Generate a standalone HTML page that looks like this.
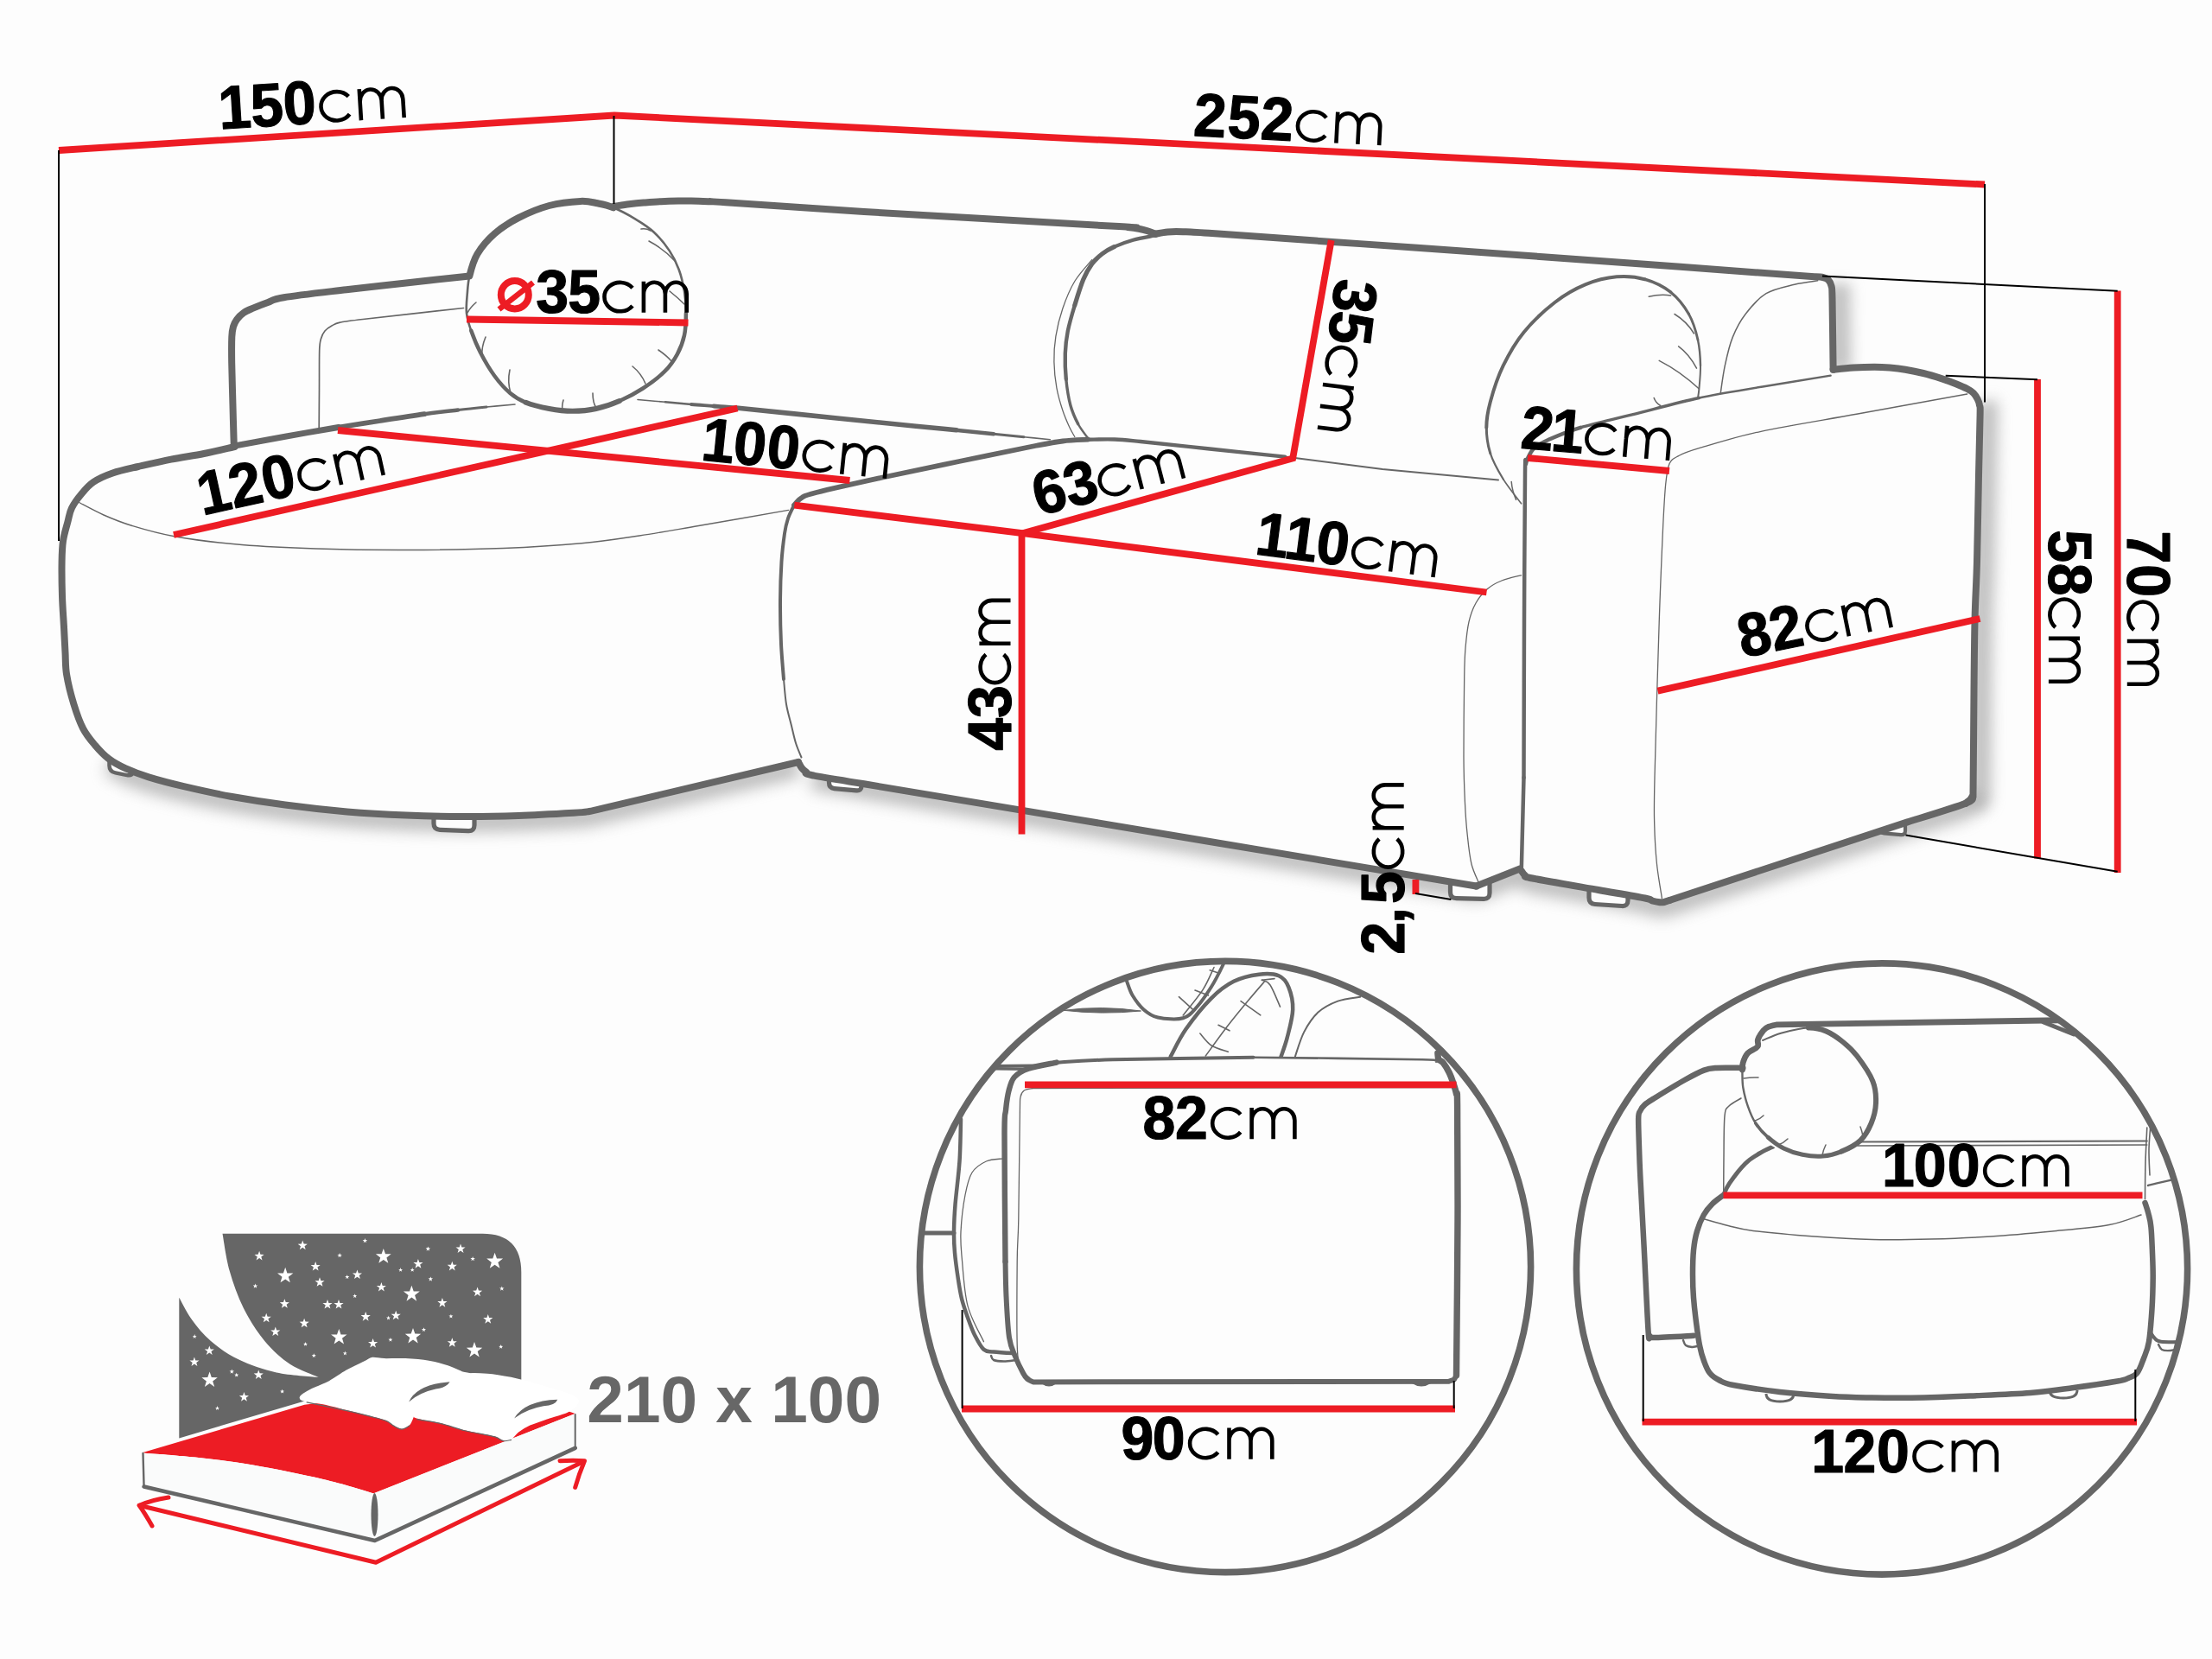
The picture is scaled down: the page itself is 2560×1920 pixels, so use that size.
<!DOCTYPE html>
<html>
<head>
<meta charset="utf-8">
<title>Sofa dimensions</title>
<style>
html,body{margin:0;padding:0;background:#fdfdfd;}
body{width:2560px;height:1920px;overflow:hidden;font-family:"Liberation Sans",sans-serif;}
svg{display:block;position:absolute;left:0;top:0;}
text{font-family:"Liberation Sans",sans-serif;}
.b{font-weight:bold;}
.g{stroke:#666;fill:none;stroke-linecap:round;stroke-linejoin:round;}
.r{stroke:#ed1c24;fill:none;stroke-width:7.8;stroke-linecap:butt;}
.k{stroke:#000;fill:none;stroke-width:2;}
</style>
</head>
<body>
<svg width="2560" height="1920" viewBox="0 0 2560 1920">
<defs>
<filter id="blur" x="-20%" y="-20%" width="140%" height="140%"><feGaussianBlur stdDeviation="9"/></filter>
<filter id="blur2" x="-50%" y="-20%" width="200%" height="140%"><feGaussianBlur stdDeviation="8"/></filter>
<clipPath id="c1"><circle cx="1418" cy="1466" r="354"/></clipPath>
<clipPath id="c2"><circle cx="2178" cy="1468.5" r="354"/></clipPath>
</defs>
<rect width="2560" height="1920" fill="#fdfdfd"/>
<g filter="url(#blur2)" fill="none" stroke="#888" stroke-width="26" opacity="0.5" stroke-linejoin="round" stroke-linecap="butt">
<path d="M2128.5,328.0 L2129.5,430.0"/>
<path d="M2296.7,465.0 C2297.1,466.2 2298.5,469.0 2299.0,472.0 C2299.5,475.0 2299.8,469.5 2299.6,483.0 C2299.4,496.5 2298.6,524.7 2298.0,553.0 C2297.4,581.3 2296.7,625.5 2296.0,653.0 C2295.3,680.5 2294.2,693.0 2293.6,718.0 C2293.0,743.0 2292.8,770.5 2292.5,803.0 C2292.2,835.5 2291.9,892.7 2291.6,913.0 C2291.3,933.3 2291.9,921.7 2290.5,925.0 C2289.1,928.3 2284.2,931.4 2283.0,932.7"/>
</g>
<g filter="url(#blur)" fill="none" stroke="#888" stroke-width="22" opacity="0.58" stroke-linejoin="round">
<path d="M2284.0,921.0 L2276.0,935.7 L2208.6,957.4 L1933.0,1048.0 L1927.0,1050.0 L1922.0,1050.3 L1913.0,1048.5 L1904.8,1045.5 L1851.0,1036.0 L1774.6,1022.5 L1766.0,1019.0 L1761.8,1013.9 L1760.0,1011.5 L1709.5,1031.5 L1401.0,980.0 L940.0,903.0"/>
<path d="M126.0,884.3 C129.2,886.1 137.3,891.7 145.0,895.2 C152.7,898.7 160.7,901.9 172.0,905.4 C183.3,908.9 197.0,912.5 212.8,916.2 C228.6,919.9 247.5,924.2 267.0,927.7 C286.5,931.2 307.6,934.5 330.0,937.5 C352.4,940.5 378.4,943.4 401.7,945.4 C425.0,947.4 447.4,948.6 470.0,949.5 C492.6,950.4 515.3,950.9 537.0,951.0 C558.7,951.1 578.8,950.7 600.0,950.0 C621.2,949.3 650.3,947.6 664.0,946.8 C677.7,946.0 676.5,945.9 682.0,945.0 C687.5,944.1 694.5,942.2 697.0,941.6 L924,888"/>
</g>
<path d="M126.5,878.0 L126.5,886.0 Q126.5,893.0 133.5,894.4 L147.0,897.1 Q154.0,898.5 154.0,891.5 L154.0,893.0" fill="#fdfdfd" stroke="#666" stroke-width="4.5" stroke-linecap="round" stroke-linejoin="round"/>
<path d="M502.0,940.0 L502.0,953.0 Q502.0,960.0 509.0,960.3 L542.0,961.7 Q549.0,962.0 549.0,955.0 L549.0,940.0" fill="#fdfdfd" stroke="#666" stroke-width="5.2" stroke-linecap="round" stroke-linejoin="round"/>
<path d="M959.5,896.0 L959.5,906.0 Q959.5,912.0 965.5,912.6 L991.0,914.9 Q997.0,915.5 997.0,909.5 L997.0,904.0" fill="#fdfdfd" stroke="#666" stroke-width="5.2" stroke-linecap="round" stroke-linejoin="round"/>
<path d="M1678.5,1018.0 L1678.5,1032.5 Q1678.5,1039.5 1685.5,1039.7 L1717.0,1040.3 Q1724.0,1040.5 1724.0,1033.5 L1724.0,1016.0" fill="#fdfdfd" stroke="#666" stroke-width="5.2" stroke-linecap="round" stroke-linejoin="round"/>
<path d="M1839.0,1026.0 L1839.0,1039.0 Q1839.0,1046.0 1846.0,1046.5 L1877.0,1048.5 Q1884.0,1049.0 1884.0,1042.0 L1884.0,1034.0" fill="#fdfdfd" stroke="#666" stroke-width="5.2" stroke-linecap="round" stroke-linejoin="round"/>
<path d="M2175.5,957.0 L2175.5,959.0 Q2175.5,964.0 2180.5,964.4 L2200.0,966.1 Q2205.0,966.5 2205.0,961.5 L2205.0,948.0" fill="#fdfdfd" stroke="#666" stroke-width="4.2" stroke-linecap="round" stroke-linejoin="round"/>
<path fill="#fdfdfd" d="M270.8,517.0 L269.5,470.0 L268.2,420.0 L268.3,390.0 L270.0,378.0 L274.2,369.6 L282.0,362.0 L292.3,356.9 L310.0,350.0 L328.5,344.2 L400.8,335.2 L470.0,327.5 L541.0,319.7 L543.4,319.3 L552.4,294.0 L572.3,270.5 L599.5,252.4 L635.6,238.0 L671.8,232.9 L691.7,235.3 L709.8,239.8 L710.0,238.9 L728.0,236.3 L745.0,234.6 L765.0,233.2 L785.0,232.5 L800.0,232.5 L820.0,233.2 L840.0,234.2 L1000.0,245.0 L1290.0,261.8 L1305.0,263.0 L1318.0,264.8 L1328.0,267.3 L1337.3,270.8 L1351.2,268.4 L1369.0,268.2 L1399.0,269.8 L1538.2,279.7 L1640.0,286.7 L1900.0,305.5 L2100.0,320.3 L2109.7,321.0 L2116.0,324.0 L2119.5,331.0 L2120.5,345.0 L2121.6,427.7 L2145.0,425.5 L2169.3,424.7 L2187.0,425.5 L2205.1,427.7 L2226.0,432.0 L2246.9,438.1 L2263.0,444.0 L2276.7,450.0 L2284.0,455.0 L2288.7,462.0 L2291.0,469.0 L2291.6,480.0 L2290.0,550.0 L2288.0,650.0 L2285.6,715.0 L2284.5,800.0 L2283.6,910.0 L2282.5,922.0 L2275.0,929.7 L2207.6,951.4 L1932.0,1042.0 L1926.0,1044.0 L1921.0,1044.3 L1912.0,1042.5 L1903.8,1039.5 L1850.0,1030.0 L1773.6,1016.5 L1765.0,1013.0 L1760.8,1007.9 L1759.0,1005.5 L1708.5,1025.5 L1400.0,974.0 L1000.0,907.3 L939.0,897.0 L933.0,893.5 L928.0,889.0 L924.0,882.0 L697.0,935.6 L682.0,939.0 L664.0,940.8 L600.0,944.0 L537.0,945.0 L470.0,943.5 L401.7,939.4 L330.0,931.5 L267.0,921.7 L212.8,910.2 L172.0,899.4 L145.0,889.2 L126.0,878.3 L109.7,862.1 L96.1,843.1 L85.3,814.6 L77.1,780.7 L75.5,755.0 L74.0,726.0 L72.0,690.0 L71.6,649.0 L73.0,626.0 L78.4,604.0 L83.0,588.0 L94.0,572.0 L108.0,558.0 L130.4,547.5 L160.0,540.0 L198.0,531.6 L236.0,525.0 L271.5,517.0Z"/>
<g id="outline">
<path class="g" stroke-width="8" d="M270.8,517.0 C270.6,509.2 269.9,486.2 269.5,470.0 C269.1,453.8 268.4,433.3 268.2,420.0 C268.0,406.7 268.0,397.0 268.3,390.0 C268.6,383.0 269.0,381.4 270.0,378.0 C271.0,374.6 272.2,372.3 274.2,369.6 C276.2,366.9 279.0,364.1 282.0,362.0 C285.0,359.9 287.6,358.9 292.3,356.9 C297.0,354.9 304.0,352.1 310.0,350.0 C316.0,347.9 313.4,346.7 328.5,344.2 C343.6,341.7 377.2,338.0 400.8,335.2 C424.4,332.4 446.6,330.1 470.0,327.5 C493.4,324.9 529.2,321.0 541.0,319.7"/>
<path class="g" stroke-width="8" d="M271.5,517.0 C265.6,518.3 248.2,522.6 236.0,525.0 C223.8,527.4 210.7,529.1 198.0,531.6 C185.3,534.1 171.3,537.4 160.0,540.0 C148.7,542.6 139.1,544.5 130.4,547.5 C121.7,550.5 114.1,553.9 108.0,558.0 C101.9,562.1 98.2,567.0 94.0,572.0 C89.8,577.0 85.6,582.7 83.0,588.0 C80.4,593.3 80.1,597.7 78.4,604.0 C76.7,610.3 74.1,618.5 73.0,626.0 C71.9,633.5 71.8,638.3 71.6,649.0 C71.4,659.7 71.6,677.2 72.0,690.0 C72.4,702.8 73.4,715.2 74.0,726.0 C74.6,736.8 75.0,745.9 75.5,755.0 C76.0,764.1 75.5,770.8 77.1,780.7 C78.7,790.6 82.1,804.2 85.3,814.6 C88.5,825.0 92.0,835.2 96.1,843.1 C100.2,851.0 104.7,856.2 109.7,862.1 C114.7,868.0 120.1,873.8 126.0,878.3 C131.9,882.8 137.3,885.7 145.0,889.2 C152.7,892.7 160.7,895.9 172.0,899.4 C183.3,902.9 197.0,906.5 212.8,910.2 C228.6,913.9 247.5,918.2 267.0,921.7 C286.5,925.2 307.6,928.5 330.0,931.5 C352.4,934.5 378.4,937.4 401.7,939.4 C425.0,941.4 447.4,942.6 470.0,943.5 C492.6,944.4 515.3,944.9 537.0,945.0 C558.7,945.1 578.8,944.7 600.0,944.0 C621.2,943.3 650.3,941.6 664.0,940.8 C677.7,940.0 676.5,939.9 682.0,939.0 C687.5,938.1 694.5,936.2 697.0,935.6 L924.0,882.0"/>
<path class="g" stroke-width="8" d="M710.0,238.9 C713.0,238.5 722.2,237.0 728.0,236.3 C733.8,235.6 738.8,235.1 745.0,234.6 C751.2,234.1 758.3,233.5 765.0,233.2 C771.7,232.8 779.2,232.6 785.0,232.5 C790.8,232.4 794.2,232.4 800.0,232.5 C805.8,232.6 813.3,232.9 820.0,233.2 C826.7,233.5 810.0,232.2 840.0,234.2 C870.0,236.2 925.0,240.4 1000.0,245.0 C1075.0,249.6 1239.2,258.8 1290.0,261.8 C1340.8,264.8 1300.3,262.5 1305.0,263.0 C1309.7,263.5 1314.2,264.1 1318.0,264.8 C1321.8,265.5 1324.8,266.3 1328.0,267.3 C1331.2,268.3 1335.8,270.2 1337.3,270.8"/>
<path class="g" stroke-width="8" d="M1337.3,270.8 C1339.6,270.4 1345.9,268.8 1351.2,268.4 C1356.5,268.0 1361.0,268.0 1369.0,268.2 C1377.0,268.4 1370.8,267.9 1399.0,269.8 C1427.2,271.7 1498.0,276.9 1538.2,279.7 C1578.4,282.5 1579.7,282.4 1640.0,286.7 C1700.3,291.0 1823.3,299.9 1900.0,305.5 C1976.7,311.1 2066.7,317.8 2100.0,320.3  C2101.6,320.4 2107.0,320.4 2109.7,321.0 C2112.4,321.6 2114.4,322.3 2116.0,324.0 C2117.6,325.7 2118.8,327.5 2119.5,331.0 C2120.2,334.5 2120.2,328.9 2120.5,345.0 C2120.8,361.1 2121.4,413.9 2121.6,427.7"/>
<path class="g" stroke-width="8" d="M2121.6,427.7 C2125.5,427.3 2137.1,426.0 2145.0,425.5 C2152.9,425.0 2162.3,424.7 2169.3,424.7 C2176.3,424.7 2181.0,425.0 2187.0,425.5 C2193.0,426.0 2198.6,426.6 2205.1,427.7 C2211.6,428.8 2219.0,430.3 2226.0,432.0 C2233.0,433.7 2240.7,436.1 2246.9,438.1 C2253.1,440.1 2258.0,442.0 2263.0,444.0 C2268.0,446.0 2273.2,448.2 2276.7,450.0 C2280.2,451.8 2282.0,453.0 2284.0,455.0 C2286.0,457.0 2287.5,459.7 2288.7,462.0 C2289.9,464.3 2290.5,466.0 2291.0,469.0 C2291.5,472.0 2291.8,466.5 2291.6,480.0 C2291.4,493.5 2290.6,521.7 2290.0,550.0 C2289.4,578.3 2288.7,622.5 2288.0,650.0 C2287.3,677.5 2286.2,690.0 2285.6,715.0 C2285.0,740.0 2284.8,767.5 2284.5,800.0 C2284.2,832.5 2283.9,889.7 2283.6,910.0 C2283.3,930.3 2283.9,918.7 2282.5,922.0 C2281.1,925.3 2276.2,928.4 2275.0,929.7"/>
<path class="g" stroke-width="8" d="M2282.5,922.0 C2281.2,923.3 2287.5,924.8 2275.0,929.7 C2262.5,934.6 2218.8,947.8 2207.6,951.4 L1932,1042"/>
<path class="g" stroke-width="8" d="M1932.0,1042.0 C1931.0,1042.3 1927.8,1043.6 1926.0,1044.0 C1924.2,1044.4 1923.3,1044.5 1921.0,1044.3 C1918.7,1044.0 1914.9,1043.3 1912.0,1042.5 C1909.1,1041.7 1914.1,1041.6 1903.8,1039.5 C1893.5,1037.4 1871.7,1033.8 1850.0,1030.0 C1828.3,1026.2 1787.8,1019.3 1773.6,1016.5 C1759.4,1013.7 1767.1,1014.4 1765.0,1013.0 C1762.9,1011.6 1761.5,1008.8 1760.8,1007.9"/>
<path class="g" stroke-width="8" d="M924.0,882.0 C924.7,883.2 926.5,887.1 928.0,889.0 C929.5,890.9 931.2,892.2 933.0,893.5 C934.8,894.8 927.8,894.7 939.0,897.0 C950.2,899.3 923.2,894.5 1000.0,907.3 C1076.8,920.1 1281.9,954.3 1400.0,974.0 C1518.1,993.7 1657.1,1016.9 1708.5,1025.5"/>
<path class="g" stroke-width="8" d="M1708.5,1025.5 L1759.0,1005.5"/>
</g>
<path fill="#fdfdfd" d="M543.4,319.3 C545.3,311.5 547.6,302.1 552.4,294.0 C557.2,285.9 564.4,277.4 572.3,270.5 C580.1,263.6 589.0,257.8 599.5,252.4 C610.0,247.0 623.6,241.2 635.6,238.0 C647.6,234.8 662.4,233.3 671.8,232.9 C681.1,232.5 685.4,234.1 691.7,235.3 C698.0,236.5 702.6,237.3 709.8,240.3 C717.0,243.3 727.2,248.6 735.0,253.3 C742.8,258.0 750.1,262.5 756.8,268.7 C763.4,274.9 770.1,283.2 774.9,290.4 C779.7,297.6 782.9,304.2 785.7,312.0 C788.6,319.8 790.6,328.9 792.0,337.4 C793.4,345.8 793.9,354.3 793.9,362.7 C793.9,371.1 793.7,380.1 792.0,388.0 C790.3,395.9 787.7,402.9 783.9,409.8 C780.1,416.8 776.0,423.1 769.4,429.7 C762.8,436.3 752.7,443.8 744.0,449.5 C735.3,455.2 726.0,460.1 717.0,464.0 C708.0,467.9 698.9,471.0 689.9,473.0 C680.9,475.0 671.8,475.8 662.7,475.8 C653.7,475.8 644.6,474.7 635.6,473.0 C626.6,471.3 616.0,468.8 608.5,465.8 C601.0,462.8 596.4,460.1 590.4,455.0 C584.4,449.9 578.0,442.8 572.3,435.0 C566.6,427.2 560.5,416.7 556.0,408.0 C551.5,399.3 547.9,390.2 545.2,382.6 C542.5,375.1 540.8,369.6 540.0,362.7 C539.2,355.8 540.1,348.2 540.7,341.0 C541.3,333.8 541.5,327.1 543.4,319.3Z"/>
<path class="g" stroke-width="8" d="M543.4,319.3 C545.3,311.5 547.6,302.1 552.4,294.0 C557.2,285.9 564.4,277.4 572.3,270.5 C580.1,263.6 589.0,257.8 599.5,252.4 C610.0,247.0 623.6,241.2 635.6,238.0 C647.6,234.8 662.4,233.3 671.8,232.9 C681.1,232.5 685.4,234.1 691.7,235.3 C698.0,236.5 702.6,237.3 709.8,240.3"/>
<path class="g" stroke-width="2.6" d="M709.8,240.3 C717.0,243.3 727.2,248.6 735.0,253.3 C742.8,258.0 750.1,262.5 756.8,268.7 C763.4,274.9 770.1,283.2 774.9,290.4 C779.7,297.6 782.9,304.2 785.7,312.0 C788.6,319.8 790.6,328.9 792.0,337.4 C793.4,345.8 793.9,354.3 793.9,362.7"/>
<path class="g" stroke-width="4.5" d="M793.9,362.7 C793.9,371.1 793.7,380.1 792.0,388.0 C790.3,395.9 787.7,402.9 783.9,409.8 C780.1,416.8 776.0,423.1 769.4,429.7 C762.8,436.3 752.7,443.8 744.0,449.5 C735.3,455.2 726.0,460.1 717.0,464.0"/>
<path class="g" stroke-width="6" d="M717.0,464.0 C708.0,467.9 698.9,471.0 689.9,473.0 C680.9,475.0 671.8,475.8 662.7,475.8 C653.7,475.8 644.6,474.7 635.6,473.0 C626.6,471.3 616.0,468.8 608.5,465.8"/>
<path class="g" stroke-width="4.5" d="M608.5,465.8 C601.0,462.8 596.4,460.1 590.4,455.0 C584.4,449.9 578.0,442.8 572.3,435.0 C566.6,427.2 560.5,416.7 556.0,408.0 C551.5,399.3 547.9,390.2 545.2,382.6"/>
<path class="g" stroke-width="2.6" d="M545.2,382.6 C542.5,375.1 540.8,369.6 540.0,362.7 C539.2,355.8 540.1,348.2 540.7,341.0 C541.3,333.8 541.5,327.1 543.4,319.3"/>
<g class="g" stroke-width="1.6">
<path d="M742,265 Q748,264 753,267"/>
<path d="M751,279 Q768,288 781,302"/>
<path d="M775,337 Q785,345 792,352"/>
<path d="M762,405 Q772,412 777,418"/>
<path d="M732,424 Q742,432 747,444"/>
<path d="M686,455 Q686,466 690,472"/>
<path d="M652,463 Q650,470 651,475"/>
<path d="M590,428 Q587,442 591,455"/>
<path d="M562,390 Q557,402 558,412"/>
<path d="M551,350 Q544,356 541,362"/>
</g>
<g id="thin">
<path class="g" stroke-width="1.7" d="M369.2,498.0 C369.2,490.0 369.4,465.4 369.5,450.0 C369.6,434.6 369.4,415.4 369.7,405.7 C370.0,396.0 370.4,395.8 371.5,392.0 C372.6,388.2 373.9,385.5 376.0,383.0 C378.1,380.5 381.1,378.6 384.0,377.0 C386.9,375.4 387.6,374.4 393.6,373.2 C399.6,371.9 396.2,372.3 420.0,369.5 C443.8,366.7 517.1,358.7 536.5,356.5"/>
<path class="g" stroke-width="7" d="M271.5,516.0 C281.2,514.2 309.9,508.8 330.0,505.2 C350.1,501.6 373.5,497.5 391.8,494.5"/>
<path class="g" stroke-width="5.8" d="M391.8,494.5 C410.1,491.5 423.4,489.6 440.0,487.0 C456.6,484.4 476.2,481.3 491.2,479.2"/>
<path class="g" stroke-width="4.4" d="M491.2,479.2 C506.2,477.1 518.0,475.9 530.0,474.5"/>
<path class="g" stroke-width="3" d="M530.0,474.5 C542.0,473.1 552.0,472.1 563.0,471.0"/>
<path class="g" stroke-width="1.6" d="M563.0,471.0 C574.0,469.9 590.5,468.5 596.0,468.0"/>
<path class="g" stroke-width="1.6" d="M738.0,462.5 C743.3,463.0 759.7,464.4 770.0,465.3"/>
<path class="g" stroke-width="2.6" d="M770.0,465.3 C780.3,466.2 790.7,467.2 800.0,468.0"/>
<path class="g" stroke-width="3.8" d="M800.0,468.0 C809.3,468.8 817.4,469.3 826.0,470.0"/>
<path class="g" stroke-width="4.8" d="M826.0,470.0 C834.6,470.7 827.7,469.6 851.9,472.0"/>
<path class="g" stroke-width="5.6" d="M851.9,472.0 C876.1,474.4 936.5,480.7 971.2,484.2 C1005.9,487.7 1037.4,490.9 1060.0,493.2 C1082.6,495.5 1091.8,496.3 1106.8,497.8"/>
<path class="g" stroke-width="4.4" d="M1106.8,497.8 C1121.8,499.3 1137.0,500.9 1150.0,502.2"/>
<path class="g" stroke-width="3" d="M1150.0,502.2 C1163.0,503.5 1174.1,504.6 1185.0,505.7"/>
<path class="g" stroke-width="1.6" d="M1185.0,505.7 C1195.9,506.8 1210.2,508.2 1215.3,508.7"/>
<path class="g" stroke-width="1.4" d="M90.6,581.0 C95.5,583.5 109.6,591.4 120.0,596.0 C130.4,600.6 139.2,604.3 153.0,608.5 C166.8,612.7 181.8,617.3 203.0,621.0 C224.2,624.7 252.9,628.2 280.0,630.5 C307.1,632.8 333.8,634.0 365.5,635.0 C397.2,636.0 433.8,636.6 470.0,636.5 C506.2,636.4 548.7,635.8 582.5,634.5 C616.3,633.2 646.8,631.2 673.0,628.8 C699.2,626.4 717.4,623.4 740.0,620.0 C762.6,616.6 779.8,613.4 808.5,608.5 C837.2,603.6 895.2,593.4 912.5,590.4"/>
<path class="g" stroke-width="5.8" d="M919.0,584.6 C920.5,583.2 923.7,578.4 928.0,576.0 C932.3,573.6 928.7,574.0 944.7,570.0 C960.7,566.0 996.5,558.0 1024.0,552.0 C1051.5,546.0 1081.0,540.0 1110.0,534.0 C1139.0,528.0 1178.0,519.9 1198.0,516.0 C1218.0,512.1 1219.8,511.7 1230.0,510.5 C1240.2,509.3 1254.2,509.0 1259.0,508.7"/>
<path class="g" stroke-width="4.4" d="M1259.0,508.7 C1264.2,508.7 1279.8,508.1 1290.0,508.5 C1300.2,508.9 1301.7,509.2 1320.0,511.0 C1338.3,512.8 1372.2,516.6 1400.0,519.5 C1427.8,522.4 1472.5,527.1 1487.0,528.6"/>
<path class="g" stroke-width="2" d="M1487.0,528.6 L1600.0,543.0 L1734.0,555.5"/>
<path class="g" stroke-width="4" d="M919.0,584.6 C917.8,587.2 913.8,594.5 912.0,600.0 C910.2,605.5 909.2,609.2 908.0,617.5 C906.8,625.8 905.3,637.1 904.5,650.0 C903.7,662.9 903.1,679.2 903.0,695.0 C902.9,710.8 903.3,729.8 904.0,745.0 C904.7,760.2 906.5,779.2 907.0,786.0"/>
<path class="g" stroke-width="2" d="M907.0,786.0 C907.5,790.8 908.5,806.0 910.0,815.0 C911.5,824.0 914.2,832.5 916.0,840.0 C917.8,847.5 919.1,853.9 921.0,860.0 C922.9,866.1 926.4,873.8 927.5,876.5"/>
<path class="g" stroke-width="4.2" d="M1335.3,272.8 C1331.3,273.6 1319.0,275.6 1311.4,277.7 C1303.8,279.8 1295.5,283.0 1289.5,285.7"/>
<path class="g" stroke-width="5.2" d="M1289.5,285.7 C1283.5,288.4 1279.9,290.4 1275.6,293.7 C1271.3,297.0 1267.3,300.6 1263.7,305.6 C1260.1,310.6 1257.0,315.6 1253.7,323.5 C1250.4,331.4 1246.8,343.4 1243.8,353.3"/>
<path class="g" stroke-width="4.4" d="M1243.8,353.3 C1240.8,363.2 1237.6,373.9 1235.8,383.2 C1234.0,392.5 1233.1,399.7 1232.8,409.0 C1232.5,418.3 1232.8,428.9 1233.8,438.9"/>
<path class="g" stroke-width="3.4" d="M1233.8,438.9 C1234.8,448.8 1236.5,460.1 1238.8,468.7 C1241.1,477.3 1244.4,484.3 1247.7,490.6"/>
<path class="g" stroke-width="2.4" d="M1247.7,490.6 C1251.0,496.9 1256.9,503.9 1258.7,506.5"/>
<path class="g" stroke-width="1.3" d="M1263.7,300.6 C1260.4,304.8 1249.5,316.1 1243.8,325.5 C1238.1,334.9 1233.4,346.7 1229.8,357.3 C1226.2,367.9 1223.6,378.8 1221.9,389.1 C1220.2,399.4 1219.7,409.1 1219.9,419.0 C1220.1,428.9 1221.2,439.5 1222.9,448.8 C1224.6,458.1 1227.3,467.1 1229.8,474.7 C1232.3,482.3 1235.5,489.5 1237.8,494.6 C1240.1,499.7 1242.8,503.7 1243.8,505.5"/>
<path class="g" stroke-width="1.3" d="M1760.6,665.8 C1756.8,666.8 1744.5,669.4 1738.0,672.0 C1731.5,674.6 1726.8,677.0 1721.8,681.3 C1716.8,685.6 1711.6,691.6 1708.0,698.0 C1704.4,704.4 1702.0,710.9 1700.0,719.6 C1698.0,728.3 1696.9,739.4 1696.0,750.0 C1695.1,760.6 1695.0,762.0 1694.7,783.0 C1694.4,804.0 1693.9,851.5 1694.0,876.0 C1694.1,900.5 1694.8,914.8 1695.5,930.0 C1696.2,945.2 1697.0,955.3 1698.3,967.0 C1699.5,978.7 1700.7,990.7 1703.0,1000.0 C1705.3,1009.3 1710.5,1019.2 1712.0,1023.0"/>
<path class="g" stroke-width="1.6" d="M1760.6,582.8 C1757.1,578.1 1745.7,564.2 1739.7,554.5"/>
<path class="g" stroke-width="2.2" d="M1739.7,554.5 C1733.7,544.8 1728.0,534.7 1724.8,524.7"/>
<path class="g" stroke-width="3" d="M1724.8,524.7 C1721.6,514.8 1720.3,504.8 1720.3,494.8"/>
<path class="g" stroke-width="4" d="M1720.3,494.8 C1720.3,484.9 1721.6,476.9 1724.8,465.0 C1728.0,453.1 1733.2,436.6 1739.7,423.2 C1746.2,409.8 1753.6,396.6 1763.6,384.4 C1773.5,372.2 1787.5,359.2 1799.4,350.0 C1811.3,340.8 1823.3,334.1 1835.2,329.2 C1847.1,324.2 1859.6,321.3 1871.0,320.3 C1882.4,319.3 1893.4,320.3 1903.8,323.3"/>
<path class="g" stroke-width="3.6" d="M1903.8,323.3 C1914.2,326.3 1925.1,331.5 1933.6,338.2"/>
<path class="g" stroke-width="3.2" d="M1933.6,338.2 C1942.0,344.9 1949.3,354.3 1954.5,363.5"/>
<path class="g" stroke-width="2.8" d="M1954.5,363.5 C1959.7,372.7 1962.8,383.4 1965.0,393.4"/>
<path class="g" stroke-width="2.4" d="M1965.0,393.4 C1967.2,403.3 1967.8,413.8 1968.0,423.2"/>
<path class="g" stroke-width="2" d="M1968.0,423.2 C1968.2,432.6 1966.9,443.8 1966.4,450.0 C1965.9,456.2 1965.2,458.8 1965.0,460.5"/>
<g class="g" stroke-width="1.5">
<path d="M1908.3,343.3 Q1922,340 1933.6,342"/>
<path d="M1938,363.5 Q1952,372 1960.5,386"/>
<path d="M1942.6,400.9 Q1955,410 1963.5,426.2"/>
<path d="M1920.2,417.3 Q1945,430 1966.4,450"/>
<path d="M1914.2,460.5 Q1916,466 1921.7,469.5"/>
<path d="M1749.2,557.5 Q1750,568 1754.6,578.4"/>
</g>
<path class="g" stroke-width="1.5" d="M1991.2,455.4 C1992.0,450.0 1994.0,434.0 1996.3,423.2 C1998.6,412.4 2001.2,400.3 2005.2,390.4 C2009.2,380.4 2013.6,371.9 2020.1,363.5 C2026.6,355.1 2034.5,345.4 2044.0,339.7 C2053.4,334.0 2066.9,331.7 2076.8,329.2 C2086.8,326.7 2099.2,325.5 2103.7,324.8"/>
<path class="g" stroke-width="4.5" d="M1763.5,900.0 C1763.6,870.0 1763.8,778.6 1764.0,720.0 C1764.2,661.4 1764.7,579.0 1765.0,548.5 C1765.3,518.0 1765.5,540.0 1766.0,537.0 C1766.5,534.0 1766.4,533.6 1768.0,530.6 C1769.6,527.6 1771.3,522.4 1775.5,518.7 C1779.7,515.0 1784.5,512.3 1793.4,508.3 C1802.4,504.3 1813.3,499.5 1829.2,494.8"/>
<path class="g" stroke-width="3.4" d="M1829.2,494.8 C1845.1,490.1 1866.0,485.6 1888.9,479.9 C1911.8,474.2 1941.2,465.9 1966.4,460.5"/>
<path class="g" stroke-width="2.4" d="M1966.4,460.5 C1991.6,455.1 2014.6,451.8 2040.0,447.5 C2065.4,443.2 2105.5,436.8 2118.6,434.6"/>
<path class="g" stroke-width="4.5" d="M1763.5,900.0 L1760.8,1006.0"/>
<path class="g" stroke-width="1.3" d="M2276.7,456.0 C2255.6,459.8 2189.8,471.8 2150.0,479.0 C2110.2,486.2 2068.6,492.7 2038.0,499.3 C2007.4,505.9 1982.3,514.0 1966.4,518.7 C1950.5,523.4 1948.3,524.6 1942.6,527.6 C1936.9,530.6 1934.6,531.1 1932.1,536.6 C1929.6,542.1 1928.9,548.6 1927.7,560.5 C1926.5,572.4 1926.0,581.6 1924.7,608.2 C1923.5,634.8 1921.8,671.4 1920.2,720.0 C1918.6,768.6 1915.9,861.1 1915.0,900.0 C1914.1,938.9 1914.3,936.9 1914.7,953.6 C1915.1,970.3 1916.0,985.7 1917.5,1000.0 C1919.0,1014.3 1922.4,1032.9 1923.4,1039.5"/>
</g>
<g id="red" class="r">
<path d="M68,174 L711,133.5 L2297,213.5"/>
<path d="M540,369.5 L796.5,373.5"/>
<path d="M201,619 L853.5,472.5"/>
<path d="M391,498 L983.5,556"/>
<path d="M919.3,584.6 L1183.4,617.2 L1720.5,685.5"/>
<path d="M1183.4,617.2 L1496.2,530.4 L1540.7,278"/>
<path d="M1182.5,615 L1182.5,965.5"/>
<path d="M1768,530 L1932,545"/>
<path d="M1918.5,799.6 L2291.5,716"/>
<path d="M2358,439 L2358,993.5"/>
<path d="M2450.7,336.5 L2450.7,1010"/>
<path d="M1638.4,1018 L1638.4,1035"/>
</g>
<g id="black" class="k">
<path d="M68,174 L68,626"/>
<path d="M710.5,134 L710.5,236"/>
<path d="M2297,213 L2297,465.5"/>
<path d="M2109,319.5 L2450.7,336.7"/>
<path d="M2251.7,434.8 L2358,439.3"/>
<path d="M2205.5,966.6 L2450.7,1008.7"/>
<path d="M1638,1034 L1679.4,1041"/>
</g>
<g id="texts">
<g transform="translate(259.8,149.2) rotate(-3.60) translate(0.0,0)" fill="#000"><text class="b" font-size="70.8" stroke="#000" stroke-width="1.2" stroke-linejoin="round" transform="scale(0.960,1)" x="-5.9 33.1 72.6">150</text><path transform="translate(110.8,0)" d="M34.8,-28.5 A18.2,16.7 0 1 0 34.8,-7.9 M47.7,0 V-36.1 M47.7,-21.5 A12.5,13.5 0 0 1 72.7,-21.5 V0 M72.7,-21.5 A12.4,13.5 0 0 1 97.5,-21.5 V0" fill="none" stroke="#000" stroke-width="4.6"/></g>
<g transform="translate(1382.4,157.0) rotate(3.00) translate(0.0,0)" fill="#000"><text class="b" font-size="70.8" stroke="#000" stroke-width="1.2" stroke-linejoin="round" transform="scale(0.960,1)" x="-1.9 39.1 78.9">252</text><path transform="translate(116.5,0)" d="M34.8,-28.5 A18.2,16.7 0 1 0 34.8,-7.9 M47.7,0 V-36.1 M47.7,-21.5 A12.5,13.5 0 0 1 72.7,-21.5 V0 M72.7,-21.5 A12.4,13.5 0 0 1 97.5,-21.5 V0" fill="none" stroke="#000" stroke-width="4.6"/></g>
<g transform="translate(621.2,361.8) rotate(0.00) translate(0.0,0)" fill="#000"><text class="b" font-size="70.8" stroke="#000" stroke-width="1.2" stroke-linejoin="round" transform="scale(0.960,1)" x="-1.0 37.5">35</text><path transform="translate(76.0,0)" d="M34.8,-28.5 A18.2,16.7 0 1 0 34.8,-7.9 M47.7,0 V-36.1 M47.7,-21.5 A12.5,13.5 0 0 1 72.7,-21.5 V0 M72.7,-21.5 A12.4,13.5 0 0 1 97.5,-21.5 V0" fill="none" stroke="#000" stroke-width="4.6"/></g>
<g transform="translate(239.9,595.3) rotate(-12.50) translate(0.0,0)" fill="#000"><text class="b" font-size="70.8" stroke="#000" stroke-width="1.2" stroke-linejoin="round" transform="scale(0.960,1)" x="-5.9 32.8 73.1">120</text><path transform="translate(111.3,0)" d="M34.8,-28.5 A18.2,16.7 0 1 0 34.8,-7.9 M47.7,0 V-36.1 M47.7,-21.5 A12.5,13.5 0 0 1 72.7,-21.5 V0 M72.7,-21.5 A12.4,13.5 0 0 1 97.5,-21.5 V0" fill="none" stroke="#000" stroke-width="4.6"/></g>
<g transform="translate(816.0,532.7) rotate(5.80) translate(0.0,0)" fill="#000"><text class="b" font-size="70.8" stroke="#000" stroke-width="1.2" stroke-linejoin="round" transform="scale(0.960,1)" x="-5.9 32.5 73.1">100</text><path transform="translate(111.3,0)" d="M34.8,-28.5 A18.2,16.7 0 1 0 34.8,-7.9 M47.7,0 V-36.1 M47.7,-21.5 A12.5,13.5 0 0 1 72.7,-21.5 V0 M72.7,-21.5 A12.4,13.5 0 0 1 97.5,-21.5 V0" fill="none" stroke="#000" stroke-width="4.6"/></g>
<g transform="translate(1202.0,597.0) rotate(-14.50) translate(2.0,0)" fill="#000"><text class="b" font-size="70.8" stroke="#000" stroke-width="1.2" stroke-linejoin="round" transform="scale(0.960,1)" x="-2.0 37.0">63</text><path transform="translate(74.0,0)" d="M34.8,-28.5 A18.2,16.7 0 1 0 34.8,-7.9 M47.7,0 V-36.1 M47.7,-21.5 A12.5,13.5 0 0 1 72.7,-21.5 V0 M72.7,-21.5 A12.4,13.5 0 0 1 97.5,-21.5 V0" fill="none" stroke="#000" stroke-width="4.6"/></g>
<g transform="translate(1454.5,641.5) rotate(7.40) translate(2.5,0)" fill="#000"><text class="b" font-size="70.8" stroke="#000" stroke-width="1.2" stroke-linejoin="round" transform="scale(0.960,1)" x="-5.9 28.8 67.2">110</text><path transform="translate(105.6,0)" d="M34.8,-28.5 A18.2,16.7 0 1 0 34.8,-7.9 M47.7,0 V-36.1 M47.7,-21.5 A12.5,13.5 0 0 1 72.7,-21.5 V0 M72.7,-21.5 A12.4,13.5 0 0 1 97.5,-21.5 V0" fill="none" stroke="#000" stroke-width="4.6"/></g>
<g transform="translate(1546.0,322.3) rotate(97.00) translate(0.0,0)" fill="#000"><text class="b" font-size="70.8" stroke="#000" stroke-width="1.2" stroke-linejoin="round" transform="scale(0.960,1)" x="-1.0 37.5">35</text><path transform="translate(76.0,0)" d="M34.8,-28.5 A18.2,16.7 0 1 0 34.8,-7.9 M47.7,0 V-36.1 M47.7,-21.5 A12.5,13.5 0 0 1 72.7,-21.5 V0 M72.7,-21.5 A12.4,13.5 0 0 1 97.5,-21.5 V0" fill="none" stroke="#000" stroke-width="4.6"/></g>
<g transform="translate(1169.5,868.4) rotate(-90.00) translate(0.0,0)" fill="#000"><text class="b" font-size="70.8" stroke="#000" stroke-width="1.2" stroke-linejoin="round" transform="scale(0.960,1)" x="-0.4 39.1">43</text><path transform="translate(76.0,0)" d="M34.8,-28.5 A18.2,16.7 0 1 0 34.8,-7.9 M47.7,0 V-36.1 M47.7,-21.5 A12.5,13.5 0 0 1 72.7,-21.5 V0 M72.7,-21.5 A12.4,13.5 0 0 1 97.5,-21.5 V0" fill="none" stroke="#000" stroke-width="4.6"/></g>
<g transform="translate(1624.7,1102.9) rotate(-90.00) translate(0.0,0)" fill="#000"><text class="b" font-size="70.8" stroke="#000" stroke-width="1.2" stroke-linejoin="round" transform="scale(0.960,1)" x="-1.9 35.4 59.4">2,5</text><path transform="translate(97.0,0)" d="M34.8,-28.5 A18.2,16.7 0 1 0 34.8,-7.9 M47.7,0 V-36.1 M47.7,-21.5 A12.5,13.5 0 0 1 72.7,-21.5 V0 M72.7,-21.5 A12.4,13.5 0 0 1 97.5,-21.5 V0" fill="none" stroke="#000" stroke-width="4.6"/></g>
<g transform="translate(1760.6,518.7) rotate(4.80) translate(0.0,0)" fill="#000"><text class="b" font-size="70.8" stroke="#000" stroke-width="1.2" stroke-linejoin="round" transform="scale(0.960,1)" x="-1.9 34.7">21</text><path transform="translate(72.3,0)" d="M34.8,-28.5 A18.2,16.7 0 1 0 34.8,-7.9 M47.7,0 V-36.1 M47.7,-21.5 A12.5,13.5 0 0 1 72.7,-21.5 V0 M72.7,-21.5 A12.4,13.5 0 0 1 97.5,-21.5 V0" fill="none" stroke="#000" stroke-width="4.6"/></g>
<g transform="translate(2013.0,762.0) rotate(-11.50) translate(5.0,0)" fill="#000"><text class="b" font-size="70.8" stroke="#000" stroke-width="1.2" stroke-linejoin="round" transform="scale(0.960,1)" x="-1.6 37.5">82</text><path transform="translate(76.8,0)" d="M34.8,-28.5 A18.2,16.7 0 1 0 34.8,-7.9 M47.7,0 V-36.1 M47.7,-21.5 A12.5,13.5 0 0 1 72.7,-21.5 V0 M72.7,-21.5 A12.4,13.5 0 0 1 97.5,-21.5 V0" fill="none" stroke="#000" stroke-width="4.6"/></g>
<g transform="translate(2370.9,614.9) rotate(90.00) translate(0.0,0)" fill="#000"><text class="b" font-size="70.8" stroke="#000" stroke-width="1.2" stroke-linejoin="round" transform="scale(0.960,1)" x="-1.6 38.5">58</text><path transform="translate(76.3,0)" d="M34.8,-28.5 A18.2,16.7 0 1 0 34.8,-7.9 M47.7,0 V-36.1 M47.7,-21.5 A12.5,13.5 0 0 1 72.7,-21.5 V0 M72.7,-21.5 A12.4,13.5 0 0 1 97.5,-21.5 V0" fill="none" stroke="#000" stroke-width="4.6"/></g>
<g transform="translate(2461.8,616.8) rotate(90.00) translate(0.0,0)" fill="#000"><text class="b" font-size="70.8" stroke="#000" stroke-width="1.2" stroke-linejoin="round" transform="scale(0.960,1)" x="-2.4 37.9">70</text><path transform="translate(77.5,0)" d="M34.8,-28.5 A18.2,16.7 0 1 0 34.8,-7.9 M47.7,0 V-36.1 M47.7,-21.5 A12.5,13.5 0 0 1 72.7,-21.5 V0 M72.7,-21.5 A12.4,13.5 0 0 1 97.5,-21.5 V0" fill="none" stroke="#000" stroke-width="4.6"/></g>
<g stroke="#ed1c24" fill="none"><ellipse cx="595.8" cy="341.2" rx="16" ry="16.2" stroke-width="8"/><path d="M577.5,358 L617,327" stroke-width="6.5"/></g>
</g>
<g id="circle1">
<g clip-path="url(#c1)">
<path fill="#666" stroke="#666" stroke-width="1" d="M1230.9,1169.3 Q1275,1163.5 1320.4,1170 Q1275,1174.5 1230.9,1169.3Z"/>
<path class="g" stroke-width="4" d="M1304.1,1135.8 C1305.2,1138.5 1307.4,1146.6 1310.7,1152.0 C1314.0,1157.4 1318.8,1164.2 1323.7,1168.4 C1328.6,1172.7 1332.4,1175.8 1340.0,1177.5 C1347.6,1179.2 1361.6,1180.4 1369.2,1178.3 C1376.8,1176.2 1380.1,1171.0 1385.5,1165.0 C1390.9,1159.0 1396.9,1150.1 1401.8,1142.3 C1406.7,1134.5 1411.8,1124.2 1414.8,1118.0 C1417.8,1111.8 1419.1,1107.2 1420.0,1105.0"/>
<path class="g" stroke-width="1.6" d="M1405.0,1119.5 C1402.8,1123.8 1398.0,1136.3 1392.0,1145.6 C1386.0,1154.8 1373.0,1170.1 1369.2,1175.0"/>
<path class="g" stroke-width="1.6" d="M1364.4,1153.7 L1380.6,1168.4"/>
<path class="g" stroke-width="1.6" d="M1383.0,1146.0 L1398.5,1152.0"/>
<path class="g" stroke-width="1.6" d="M1400.2,1122.8 L1410.0,1126.0"/>
<path class="g" stroke-width="4.5" d="M1354.6,1223.0 C1357.6,1217.7 1364.6,1202.3 1372.5,1191.0 C1380.4,1179.7 1392.6,1164.5 1401.8,1155.3 C1411.0,1146.1 1418.6,1140.4 1427.8,1135.8 C1437.0,1131.2 1448.4,1128.8 1457.1,1127.7 C1465.8,1126.6 1474.2,1126.9 1479.9,1129.3 C1485.6,1131.7 1488.6,1135.8 1491.3,1142.3 C1494.0,1148.8 1496.5,1158.6 1496.2,1168.4 C1495.9,1178.2 1492.0,1191.8 1489.7,1200.9 C1487.4,1210.0 1483.7,1219.3 1482.5,1223.0"/>
<path class="g" stroke-width="1.6" d="M1395.3,1222.0 C1399.1,1216.8 1409.9,1201.6 1418.0,1191.0 C1426.1,1180.4 1436.5,1167.8 1444.1,1158.6 C1451.7,1149.4 1460.3,1139.6 1463.6,1135.8"/>
<path class="g" stroke-width="1.6" d="M1388.8,1196.0 C1391.0,1198.3 1396.6,1206.5 1402.0,1210.0 C1407.4,1213.5 1418.1,1216.0 1421.3,1217.2"/>
<path class="g" stroke-width="1.6" d="M1410.0,1186.3 L1423.0,1192.8"/>
<path class="g" stroke-width="1.6" d="M1436.0,1158.6 L1458.8,1174.9"/>
<path class="g" stroke-width="1.6" d="M1460.4,1134.2 C1462.0,1135.2 1466.5,1134.8 1470.0,1140.0 C1473.5,1145.2 1479.6,1160.9 1481.5,1165.1"/>
<path class="g" stroke-width="1.6" d="M1460.4,1134.2 L1475.0,1132.6"/>
<path class="g" stroke-width="2" d="M1498.8,1223.0 C1500.5,1218.2 1504.8,1203.0 1509.2,1194.4 C1513.7,1185.8 1519.0,1177.6 1525.5,1171.6 C1532.0,1165.6 1540.2,1161.6 1548.3,1158.6 C1556.4,1155.6 1570.0,1154.5 1574.3,1153.7"/>
<path class="g" stroke-width="4" d="M1150.0,1234.0 L1200.0,1233.5"/>
<path class="g" stroke-width="3" d="M1150.0,1237.0 L1190.0,1237.5"/>
<path class="g" stroke-width="4.5" d="M1112.0,1295.3 C1111.8,1303.4 1111.6,1327.7 1110.5,1344.0 C1109.4,1360.3 1106.7,1379.4 1105.6,1393.0 C1104.5,1406.6 1104.1,1416.0 1104.0,1425.5 C1103.9,1435.0 1104.2,1441.1 1105.0,1450.0 C1105.8,1458.9 1107.4,1470.2 1108.7,1479.0 C1110.0,1487.8 1111.1,1495.3 1113.0,1503.0 C1114.9,1510.7 1117.5,1518.0 1120.0,1525.0 C1122.5,1532.0 1124.9,1538.9 1128.0,1545.0 C1131.1,1551.1 1134.8,1558.5 1138.5,1561.8 C1142.2,1565.0 1143.5,1563.7 1150.0,1564.5 C1156.5,1565.3 1172.8,1566.1 1177.4,1566.4"/>
<path class="g" stroke-width="5" d="M1060.0,1427.0 L1104.0,1427.0"/>
<path class="g" stroke-width="1.3" d="M1160.3,1340.9 C1157.2,1341.4 1147.3,1341.3 1141.4,1344.0 C1135.5,1346.7 1129.1,1350.5 1125.0,1357.0 C1120.9,1363.5 1119.2,1371.6 1117.0,1383.0 C1114.8,1394.4 1112.6,1413.2 1112.0,1425.5 C1111.4,1437.8 1112.0,1442.2 1113.3,1456.5 C1114.6,1470.8 1115.8,1495.4 1120.0,1511.4 C1124.2,1527.4 1135.4,1545.8 1138.5,1552.7"/>
<path class="g" stroke-width="2.5" d="M1147.0,1569.0 C1147.5,1569.8 1147.5,1572.9 1150.0,1574.0 C1152.5,1575.1 1157.7,1575.5 1162.0,1575.5 C1166.3,1575.5 1173.7,1574.2 1176.0,1574.0"/>
<path d="M1205,1601 q9,7 18,0z" fill="#666"/><path d="M1634,1601 q11,7 22,0z" fill="#666"/>
<path fill="#fdfdfd" d="M1163.5,1460.0 L1162.5,1311.6 L1164.0,1285.0 L1167.4,1262.8 L1174.0,1246.5 L1190.2,1236.7 L1222.8,1229.6 L1287.9,1226.3 L1450.6,1223.7 L1646.0,1226.3 L1662.2,1228.6 L1670.4,1230.2 L1677.0,1241.0 L1681.7,1253.0 L1685.5,1266.0 L1686.6,1279.0 L1687.0,1410.7 L1685.5,1591.6 L1683.0,1596.5 L1676.7,1598.8 L1195.7,1599.4 L1189.0,1596.0 L1184.0,1589.0 L1175.0,1570.0 L1168.0,1548.0 L1164.5,1500.0 L1163.5,1460.0Z"/>
<path class="g" stroke-width="6.4" d="M1163.5,1460.0 C1163.3,1435.3 1162.4,1340.8 1162.5,1311.6 C1162.6,1282.4 1163.2,1293.1 1164.0,1285.0 C1164.8,1276.9 1165.7,1269.2 1167.4,1262.8 C1169.1,1256.4 1170.2,1250.8 1174.0,1246.5 C1177.8,1242.2 1182.1,1239.5 1190.2,1236.7 C1198.3,1233.9 1217.4,1230.8 1222.8,1229.6"/>
<path class="g" stroke-width="4" d="M1222.8,1229.6 C1233.7,1229.0 1249.9,1227.3 1287.9,1226.3 C1325.9,1225.3 1423.5,1224.1 1450.6,1223.7"/>
<path class="g" stroke-width="2.6" d="M1450.6,1223.7 C1483.2,1224.1 1610.7,1225.5 1646.0,1226.3 C1681.3,1227.1 1659.5,1228.2 1662.2,1228.6"/>
<path class="g" stroke-width="7.4" d="M1663.9,1219.0 C1664.1,1220.2 1663.9,1224.1 1665.0,1226.0 C1666.1,1227.9 1668.4,1227.7 1670.4,1230.2 C1672.4,1232.7 1675.1,1237.2 1677.0,1241.0 C1678.9,1244.8 1680.3,1248.8 1681.7,1253.0 C1683.1,1257.2 1684.7,1261.7 1685.5,1266.0 C1686.3,1270.3 1686.3,1254.9 1686.6,1279.0 C1686.8,1303.1 1687.2,1358.6 1687.0,1410.7 C1686.8,1462.8 1685.8,1561.4 1685.5,1591.6"/>
<path class="g" stroke-width="6" d="M1685.5,1591.6 L1683.0,1596.5 L1676.7,1598.8 L1195.7,1599.4  C1194.6,1598.8 1191.0,1597.7 1189.0,1596.0 C1187.0,1594.3 1186.3,1593.3 1184.0,1589.0 C1181.7,1584.7 1177.7,1576.8 1175.0,1570.0 C1172.3,1563.2 1169.8,1559.7 1168.0,1548.0 C1166.2,1536.3 1165.2,1514.7 1164.5,1500.0 C1163.8,1485.3 1163.7,1466.7 1163.5,1460.0"/>
<path class="g" stroke-width="1.3" d="M1192.0,1595.0 C1190.5,1593.3 1185.4,1590.5 1183.0,1585.0 C1180.6,1579.5 1178.4,1582.6 1177.4,1561.8 C1176.4,1541.0 1177.0,1485.2 1177.2,1460.0 C1177.4,1434.8 1178.3,1439.0 1178.8,1410.7 C1179.3,1382.4 1179.9,1313.6 1180.3,1290.0 C1180.7,1266.4 1180.3,1274.0 1181.1,1269.3 C1181.9,1264.6 1183.0,1263.6 1185.3,1262.0 C1187.6,1260.4 1193.4,1259.9 1195.0,1259.5 L1680,1258.5"/>
</g>
<g class="r" stroke-width="7.8"><path d="M1186,1255.3 L1685.5,1255.3"/><path d="M1113,1630.5 L1684,1630.5"/></g>
<g class="k"><path d="M1113.6,1516 L1113.6,1630"/><path d="M1682.7,1598 L1682.7,1630"/></g>
<circle cx="1418" cy="1466" r="353.6" fill="none" stroke="#666" stroke-width="7.6"/>
<g transform="translate(1324.1,1318.2) rotate(0.00) translate(0.0,0)" fill="#000"><text class="b" font-size="70.8" stroke="#000" stroke-width="1.2" stroke-linejoin="round" transform="scale(0.960,1)" x="-1.6 37.5">82</text><path transform="translate(76.8,0)" d="M34.8,-28.5 A18.2,16.7 0 1 0 34.8,-7.9 M47.7,0 V-36.1 M47.7,-21.5 A12.5,13.5 0 0 1 72.7,-21.5 V0 M72.7,-21.5 A12.4,13.5 0 0 1 97.5,-21.5 V0" fill="none" stroke="#000" stroke-width="4.6"/></g>
<g transform="translate(1299.3,1688.7) rotate(0.00) translate(0.0,0)" fill="#000"><text class="b" font-size="70.8" stroke="#000" stroke-width="1.2" stroke-linejoin="round" transform="scale(0.960,1)" x="-1.9 35.8">90</text><path transform="translate(75.5,0)" d="M34.8,-28.5 A18.2,16.7 0 1 0 34.8,-7.9 M47.7,0 V-36.1 M47.7,-21.5 A12.5,13.5 0 0 1 72.7,-21.5 V0 M72.7,-21.5 A12.4,13.5 0 0 1 97.5,-21.5 V0" fill="none" stroke="#000" stroke-width="4.6"/></g>
</g>
<g id="circle2">
<g clip-path="url(#c2)">
<path class="g" stroke-width="6.8" d="M2016.5,1238.0 C2016.6,1236.6 2016.2,1232.8 2017.3,1229.6 C2018.3,1226.4 2020.0,1221.7 2022.8,1218.7 C2025.6,1215.7 2032.0,1214.1 2034.0,1211.5 C2036.0,1208.9 2033.4,1206.2 2034.5,1203.0 C2035.6,1199.8 2038.7,1195.1 2040.8,1192.6 C2042.9,1190.1 2044.4,1189.3 2047.0,1188.2 C2049.6,1187.1 2054.9,1186.2 2056.5,1185.8 L2400,1180.5"/>
<path class="g" stroke-width="5" d="M2365.0,1183.0 L2400.0,1197.0"/>
<path class="g" stroke-width="2.2" d="M2152.7,1321.5 L2484.8,1320.5"/>
<path class="g" stroke-width="1.6" d="M2150.0,1326.0 L2484.8,1325.0"/>
<path class="g" stroke-width="1.6" d="M2484.8,1305.0 C2484.5,1311.7 2483.4,1331.2 2483.0,1345.0 C2482.6,1358.8 2482.6,1380.7 2482.5,1387.8"/>
<path class="g" stroke-width="1.6" d="M2489.0,1300.0 C2488.7,1305.0 2487.2,1320.0 2487.0,1330.0 C2486.8,1340.0 2487.8,1355.0 2488.0,1360.0"/>
<path class="g" stroke-width="2.4" d="M2486.0,1372.0 C2487.7,1371.6 2490.6,1370.7 2496.3,1369.4 C2502.0,1368.1 2516.1,1364.9 2520.0,1364.0"/>
<path class="g" stroke-width="4" d="M2487.0,1539.0 C2488.0,1540.5 2490.7,1545.7 2493.0,1548.0 C2495.3,1550.3 2494.7,1551.9 2500.9,1552.7 C2507.1,1553.5 2525.2,1553.0 2530.0,1553.0"/>
<path class="g" stroke-width="2.4" d="M2498.0,1556.0 C2498.7,1557.0 2499.7,1560.8 2502.0,1562.0 C2504.3,1563.2 2508.7,1563.2 2512.0,1563.0 C2515.3,1562.8 2520.3,1561.3 2522.0,1561.0"/>
<path class="g" stroke-width="6.5" d="M2017.3,1235.9 C2012.2,1235.9 1994.1,1235.5 1986.6,1235.9 C1979.1,1236.4 1978.1,1236.3 1972.1,1238.6 C1966.1,1240.9 1960.1,1244.1 1950.4,1249.5 C1940.8,1254.9 1922.0,1266.4 1914.2,1271.2 C1906.4,1276.0 1906.2,1276.1 1903.5,1278.5 C1900.8,1280.9 1899.5,1282.9 1898.3,1285.5 C1897.1,1288.1 1896.4,1286.5 1896.2,1294.0 C1896.0,1301.5 1896.7,1319.0 1897.1,1330.8 C1897.5,1342.6 1897.5,1345.1 1898.5,1365.0 C1899.5,1384.9 1901.5,1420.7 1903.0,1450.0 C1904.5,1479.3 1906.5,1525.0 1907.6,1541.0 C1908.7,1557.0 1908.3,1544.8 1909.5,1546.0 C1910.7,1547.2 1906.1,1548.0 1914.5,1548.0 C1922.9,1548.0 1952.4,1546.2 1960.0,1545.8"/>
<path class="g" stroke-width="2.4" d="M1948.0,1551.0 C1948.5,1552.0 1949.3,1555.7 1951.0,1557.0 C1952.7,1558.3 1955.8,1558.8 1958.0,1559.0 C1960.2,1559.2 1963.0,1558.2 1964.0,1558.0"/>
<path class="g" stroke-width="1.5" d="M1994.7,1383.0 C1994.8,1375.8 1994.8,1355.2 1995.0,1340.0 C1995.2,1324.8 1995.0,1301.6 1996.0,1291.6 C1997.0,1281.6 1997.8,1283.4 2001.0,1280.0 C2004.2,1276.6 2012.7,1272.5 2015.0,1271.0"/>
<path d="M2044,1613 q0,9 16,9 q16,0 16,-9" fill="#fdfdfd" stroke="#666" stroke-width="3"/>
<path d="M2372,1609 q0,9 16,9 q16,0 16,-9" fill="#fdfdfd" stroke="#666" stroke-width="3"/>
<path fill="#fdfdfd" d="M1994.7,1383.0 C1992.6,1384.7 1985.8,1389.2 1982.0,1393.0 C1978.2,1396.8 1974.8,1400.7 1971.8,1406.0 C1968.8,1411.3 1966.0,1418.2 1964.0,1425.0 C1962.0,1431.8 1960.8,1438.7 1960.0,1447.0 C1959.2,1455.3 1959.0,1465.8 1959.0,1475.0 C1959.0,1484.2 1959.3,1492.8 1960.0,1502.0 C1960.7,1511.2 1961.8,1520.8 1963.0,1530.0 C1964.2,1539.2 1965.5,1549.5 1967.0,1557.0 C1968.5,1564.5 1970.0,1569.7 1972.0,1575.0 C1974.0,1580.3 1975.7,1585.2 1978.7,1589.0 C1981.7,1592.8 1985.5,1595.2 1990.0,1597.5 C1994.5,1599.8 1994.3,1600.8 2006.0,1603.0 C2017.7,1605.2 2040.9,1608.8 2060.0,1611.0 C2079.1,1613.2 2103.0,1614.9 2120.7,1616.0 C2138.4,1617.1 2150.8,1617.2 2166.0,1617.5 C2181.2,1617.8 2193.0,1618.0 2212.0,1617.7 C2231.0,1617.4 2257.1,1616.5 2280.0,1615.5 C2302.9,1614.5 2329.7,1613.6 2349.7,1612.0 C2369.7,1610.4 2383.2,1608.2 2400.0,1606.0 C2416.8,1603.8 2440.0,1600.3 2450.5,1598.5 C2461.0,1596.7 2459.2,1596.6 2463.0,1595.0 C2466.8,1593.4 2470.4,1592.8 2473.4,1589.0 C2476.4,1585.2 2478.7,1578.0 2481.0,1572.0 C2483.3,1566.0 2485.4,1562.2 2487.0,1552.7 C2488.6,1543.2 2489.7,1527.3 2490.5,1515.0 C2491.3,1502.7 2491.6,1489.8 2491.7,1479.0 C2491.8,1468.2 2491.4,1459.8 2491.0,1450.0 C2490.6,1440.2 2490.2,1427.5 2489.4,1420.0 C2488.7,1412.5 2487.7,1409.7 2486.5,1405.0 C2485.3,1400.3 2483.2,1394.2 2482.5,1392.0 L2479,1383Z"/>
<path class="g" stroke-width="6.5" d="M1994.7,1383.0 C1992.6,1384.7 1985.8,1389.2 1982.0,1393.0 C1978.2,1396.8 1974.8,1400.7 1971.8,1406.0 C1968.8,1411.3 1966.0,1418.2 1964.0,1425.0 C1962.0,1431.8 1960.8,1438.7 1960.0,1447.0 C1959.2,1455.3 1959.0,1465.8 1959.0,1475.0 C1959.0,1484.2 1959.3,1492.8 1960.0,1502.0 C1960.7,1511.2 1961.8,1520.8 1963.0,1530.0 C1964.2,1539.2 1965.5,1549.5 1967.0,1557.0 C1968.5,1564.5 1970.0,1569.7 1972.0,1575.0 C1974.0,1580.3 1975.7,1585.2 1978.7,1589.0 C1981.7,1592.8 1985.5,1595.2 1990.0,1597.5 C1994.5,1599.8 1994.3,1600.8 2006.0,1603.0 C2017.7,1605.2 2040.9,1608.8 2060.0,1611.0 C2079.1,1613.2 2103.0,1614.9 2120.7,1616.0 C2138.4,1617.1 2150.8,1617.2 2166.0,1617.5 C2181.2,1617.8 2193.0,1618.0 2212.0,1617.7 C2231.0,1617.4 2257.1,1616.5 2280.0,1615.5 C2302.9,1614.5 2329.7,1613.6 2349.7,1612.0 C2369.7,1610.4 2383.2,1608.2 2400.0,1606.0 C2416.8,1603.8 2440.0,1600.3 2450.5,1598.5 C2461.0,1596.7 2459.2,1596.6 2463.0,1595.0 C2466.8,1593.4 2470.4,1592.8 2473.4,1589.0 C2476.4,1585.2 2478.7,1578.0 2481.0,1572.0 C2483.3,1566.0 2485.4,1562.2 2487.0,1552.7 C2488.6,1543.2 2489.7,1527.3 2490.5,1515.0 C2491.3,1502.7 2491.6,1489.8 2491.7,1479.0 C2491.8,1468.2 2491.4,1459.8 2491.0,1450.0 C2490.6,1440.2 2490.2,1427.5 2489.4,1420.0 C2488.7,1412.5 2487.7,1409.7 2486.5,1405.0 C2485.3,1400.3 2483.2,1394.2 2482.5,1392.0"/>
<path class="g" stroke-width="1.5" d="M1971.8,1410.7 C1976.5,1412.0 1990.5,1416.2 2000.0,1418.5 C2009.5,1420.8 2012.3,1422.3 2029.0,1424.4 C2045.7,1426.5 2077.1,1429.3 2100.0,1431.0 C2122.9,1432.7 2144.0,1434.0 2166.5,1434.5 C2189.0,1435.0 2212.1,1434.6 2235.0,1434.0 C2257.9,1433.4 2280.7,1432.5 2304.0,1431.0 C2327.3,1429.5 2352.2,1427.2 2375.0,1425.0 C2397.8,1422.8 2423.8,1420.7 2441.0,1417.5 C2458.2,1414.3 2471.8,1407.9 2478.0,1406.0"/>
<path class="g" stroke-width="5" d="M1994.7,1383.0 C1995.8,1380.7 1997.4,1375.5 2001.6,1369.4 C2005.8,1363.3 2014.3,1352.2 2020.0,1346.5 C2025.7,1340.8 2030.7,1338.2 2036.0,1335.0 C2041.3,1331.8 2049.3,1328.3 2052.0,1327.0"/>
<ellipse cx="2093.5" cy="1264" rx="77.5" ry="74.5" fill="#fdfdfd"/>
<path class="g" stroke-width="2" d="M2040.0,1204.0 C2043.7,1202.6 2053.2,1197.9 2062.0,1195.5 C2070.8,1193.1 2084.5,1189.8 2093.0,1189.5"/>
<path class="g" stroke-width="6" d="M2093.0,1189.5 C2101.5,1189.2 2106.5,1190.7 2113.2,1193.4 C2119.9,1196.2 2127.0,1201.2 2133.0,1206.0 C2139.0,1210.8 2143.6,1214.8 2149.3,1222.3 C2155.0,1229.8 2163.8,1242.2 2167.4,1251.3 C2171.0,1260.3 2171.3,1268.5 2171.0,1276.6 C2170.7,1284.7 2168.6,1292.8 2165.6,1300.0 C2162.6,1307.2 2158.7,1314.6 2153.0,1320.0 C2147.3,1325.4 2138.6,1329.6 2131.3,1332.6"/>
<path class="g" stroke-width="5" d="M2131.3,1332.6 C2124.1,1335.6 2117.1,1337.4 2109.5,1338.0 C2101.9,1338.6 2093.5,1337.8 2086.0,1336.3 C2078.5,1334.8 2070.9,1332.3 2064.3,1329.0 C2057.7,1325.7 2051.7,1321.2 2046.3,1316.4"/>
<path class="g" stroke-width="3.6" d="M2046.3,1316.4 C2040.9,1311.6 2035.7,1306.0 2031.8,1300.0"/>
<path class="g" stroke-width="2.4" d="M2031.8,1300.0 C2027.9,1294.0 2025.2,1287.1 2022.8,1280.2 C2020.4,1273.3 2018.4,1265.1 2017.3,1258.5 C2016.2,1251.9 2016.6,1243.4 2016.4,1240.4"/>
<path class="g" stroke-width="1.5" d="M2018,1248 q9,-1.5 17,-1"/>
<path class="g" stroke-width="1.5" d="M2031,1297 q6,-2 10,-6"/>
<path class="g" stroke-width="1.5" d="M2058,1325 q6,-2 11,-7"/>
<path class="g" stroke-width="1.5" d="M2109,1337 q1,-6 4,-12"/>
<path class="g" stroke-width="1.5" d="M2156,1315 q-1,-6 -3,-11"/>
</g>
<g class="r" stroke-width="7.8"><path d="M1994.5,1383.3 L2479.5,1383.3"/><path d="M1900.5,1645.7 L2473,1645.7"/></g>
<g class="k"><path d="M1901.7,1545 L1901.7,1645"/><path d="M2471.3,1585 L2471.3,1645"/></g>
<circle cx="2178" cy="1468.5" r="353.6" fill="none" stroke="#666" stroke-width="7.6"/>
<g transform="translate(2183.6,1373.3) rotate(0.00) translate(0.0,0)" fill="#000"><text class="b" font-size="70.8" stroke="#000" stroke-width="1.2" stroke-linejoin="round" transform="scale(0.960,1)" x="-5.9 32.5 73.1">100</text><path transform="translate(111.3,0)" d="M34.8,-28.5 A18.2,16.7 0 1 0 34.8,-7.9 M47.7,0 V-36.1 M47.7,-21.5 A12.5,13.5 0 0 1 72.7,-21.5 V0 M72.7,-21.5 A12.4,13.5 0 0 1 97.5,-21.5 V0" fill="none" stroke="#000" stroke-width="4.6"/></g>
<g transform="translate(2101.9,1703.6) rotate(0.00) translate(0.0,0)" fill="#000"><text class="b" font-size="70.8" stroke="#000" stroke-width="1.2" stroke-linejoin="round" transform="scale(0.960,1)" x="-5.9 32.8 73.1">120</text><path transform="translate(111.3,0)" d="M34.8,-28.5 A18.2,16.7 0 1 0 34.8,-7.9 M47.7,0 V-36.1 M47.7,-21.5 A12.5,13.5 0 0 1 72.7,-21.5 V0 M72.7,-21.5 A12.4,13.5 0 0 1 97.5,-21.5 V0" fill="none" stroke="#000" stroke-width="4.6"/></g>
</g>
<g id="bed">
<path fill="#666" d="M257.5,1427.7 L558.5,1427.7 Q603.3,1427.7 603.3,1472.5 L603.3,1650 L352.4,1621.5 L207.3,1664.4 L207.3,1501.7 C209.8,1506.0 216.1,1519.1 222.2,1527.5 C228.3,1535.9 234.9,1544.3 244.0,1552.0 C253.1,1559.7 263.8,1567.5 276.5,1573.6 C289.2,1579.7 304.6,1585.1 320.0,1588.5 C335.4,1591.9 360.6,1593.1 368.7,1594.0  C363.2,1591.1 346.4,1585.9 336.0,1579.0 C325.6,1572.1 315.3,1562.8 306.3,1552.0 C297.3,1541.2 288.7,1527.6 281.9,1514.0 C275.1,1500.4 269.7,1484.9 265.6,1470.5 C261.5,1456.1 258.9,1434.8 257.5,1427.7Z"/>
<g fill="#fff">
<polygon points="350.2,1435.6 351.6,1439.6 355.8,1439.7 352.5,1442.2 353.7,1446.2 350.2,1443.8 346.8,1446.2 348.0,1442.2 344.7,1439.7 348.9,1439.6"/>
<polygon points="300.1,1447.8 301.4,1451.8 305.6,1451.9 302.3,1454.4 303.5,1458.4 300.1,1456.0 296.6,1458.4 297.8,1454.4 294.5,1451.9 298.7,1451.8"/>
<polygon points="422.4,1432.9 423.1,1434.9 425.2,1434.9 423.5,1436.2 424.1,1438.2 422.4,1437.0 420.7,1438.2 421.3,1436.2 419.6,1434.9 421.7,1434.9"/>
<polygon points="443.8,1444.9 446.0,1451.2 452.7,1451.3 447.4,1455.4 449.3,1461.8 443.8,1458.0 438.3,1461.8 440.2,1455.4 434.9,1451.3 441.6,1451.2"/>
<polygon points="393.1,1450.0 393.8,1451.9 395.9,1452.0 394.2,1453.3 394.8,1455.3 393.1,1454.1 391.4,1455.3 392.0,1453.3 390.3,1452.0 392.4,1451.9"/>
<polygon points="495.3,1442.4 496.0,1444.3 498.1,1444.4 496.5,1445.7 497.1,1447.7 495.3,1446.5 493.6,1447.7 494.2,1445.7 492.6,1444.4 494.6,1444.3"/>
<polygon points="533.0,1439.4 534.4,1443.4 538.6,1443.5 535.3,1446.0 536.5,1450.0 533.0,1447.6 529.6,1450.0 530.8,1446.0 527.5,1443.5 531.7,1443.4"/>
<polygon points="547.1,1454.0 547.8,1456.0 549.9,1456.1 548.3,1457.3 548.9,1459.3 547.1,1458.1 545.4,1459.3 546.0,1457.3 544.4,1456.1 546.5,1456.0"/>
<polygon points="572.6,1449.7 575.0,1456.4 582.1,1456.6 576.4,1460.9 578.5,1467.7 572.6,1463.7 566.8,1467.7 568.8,1460.9 563.2,1456.6 570.3,1456.4"/>
<polygon points="365.2,1460.0 366.5,1464.0 370.7,1464.1 367.4,1466.6 368.6,1470.6 365.2,1468.3 361.7,1470.6 362.9,1466.6 359.6,1464.1 363.8,1464.0"/>
<polygon points="330.2,1466.8 332.4,1473.4 339.4,1473.5 333.8,1477.7 335.8,1484.3 330.2,1480.4 324.5,1484.3 326.5,1477.7 321.0,1473.5 327.9,1473.4"/>
<polygon points="483.9,1457.1 485.3,1461.0 489.5,1461.1 486.2,1463.6 487.4,1467.7 483.9,1465.3 480.5,1467.7 481.7,1463.6 478.4,1461.1 482.6,1461.0"/>
<polygon points="523.3,1459.8 524.7,1463.7 528.8,1463.8 525.5,1466.4 526.7,1470.4 523.3,1468.0 519.8,1470.4 521.0,1466.4 517.7,1463.8 521.9,1463.7"/>
<polygon points="463.6,1467.1 464.2,1468.9 466.1,1468.9 464.6,1470.0 465.2,1471.8 463.6,1470.8 462.1,1471.8 462.6,1470.0 461.1,1468.9 463.0,1468.9"/>
<polygon points="477.2,1467.1 477.8,1468.9 479.7,1468.9 478.2,1470.0 478.7,1471.8 477.2,1470.8 475.6,1471.8 476.2,1470.0 474.7,1468.9 476.5,1468.9"/>
<polygon points="413.4,1469.5 414.8,1473.5 419.0,1473.6 415.7,1476.1 416.9,1480.1 413.4,1477.7 410.0,1480.1 411.2,1476.1 407.9,1473.6 412.1,1473.5"/>
<polygon points="401.8,1475.2 402.4,1477.0 404.3,1477.0 402.8,1478.2 403.3,1480.0 401.8,1478.9 400.2,1480.0 400.8,1478.2 399.3,1477.0 401.1,1477.0"/>
<polygon points="370.0,1478.2 371.4,1482.2 375.6,1482.3 372.3,1484.8 373.5,1488.8 370.0,1486.4 366.6,1488.8 367.8,1484.8 364.5,1482.3 368.7,1482.2"/>
<polygon points="498.3,1477.4 499.0,1479.3 501.1,1479.4 499.4,1480.6 500.0,1482.7 498.3,1481.5 496.6,1482.7 497.2,1480.6 495.5,1479.4 497.6,1479.3"/>
<polygon points="295.4,1485.5 296.1,1487.5 298.2,1487.5 296.6,1488.8 297.2,1490.8 295.4,1489.6 293.7,1490.8 294.3,1488.8 292.7,1487.5 294.8,1487.5"/>
<polygon points="441.4,1483.9 442.7,1487.9 446.9,1488.0 443.6,1490.5 444.8,1494.5 441.4,1492.1 437.9,1494.5 439.1,1490.5 435.8,1488.0 440.0,1487.9"/>
<polygon points="476.4,1487.7 478.7,1494.4 485.8,1494.6 480.1,1498.9 482.2,1505.7 476.4,1501.6 470.5,1505.7 472.6,1498.9 466.9,1494.6 474.0,1494.4"/>
<polygon points="552.6,1489.6 553.9,1493.6 558.1,1493.7 554.8,1496.2 556.0,1500.2 552.6,1497.8 549.1,1500.2 550.3,1496.2 547.0,1493.7 551.2,1493.6"/>
<polygon points="580.8,1488.5 581.5,1490.5 583.6,1490.5 581.9,1491.8 582.5,1493.8 580.8,1492.6 579.1,1493.8 579.7,1491.8 578.0,1490.5 580.1,1490.5"/>
<polygon points="410.7,1497.2 411.3,1499.0 413.2,1499.0 411.7,1500.1 412.3,1501.9 410.7,1500.9 409.2,1501.9 409.7,1500.1 408.2,1499.0 410.1,1499.0"/>
<polygon points="329.3,1503.2 330.7,1507.1 334.9,1507.2 331.6,1509.8 332.8,1513.8 329.3,1511.4 325.9,1513.8 327.1,1509.8 323.8,1507.2 328.0,1507.1"/>
<polygon points="379.0,1504.0 380.4,1507.9 384.6,1508.0 381.2,1510.6 382.4,1514.6 379.0,1512.2 375.5,1514.6 376.8,1510.6 373.4,1508.0 377.6,1507.9"/>
<polygon points="392.0,1504.0 393.4,1507.9 397.6,1508.0 394.2,1510.6 395.4,1514.6 392.0,1512.2 388.6,1514.6 389.8,1510.6 386.4,1508.0 390.6,1507.9"/>
<polygon points="511.9,1502.1 513.3,1506.1 517.5,1506.1 514.1,1508.7 515.3,1512.7 511.9,1510.3 508.4,1512.7 509.7,1508.7 506.3,1506.1 510.5,1506.1"/>
<polygon points="308.2,1519.7 309.6,1523.7 313.8,1523.8 310.4,1526.3 311.6,1530.3 308.2,1527.9 304.8,1530.3 306.0,1526.3 302.6,1523.8 306.8,1523.7"/>
<polygon points="423.2,1518.1 424.6,1522.1 428.8,1522.1 425.4,1524.7 426.6,1528.7 423.2,1526.3 419.7,1528.7 421.0,1524.7 417.6,1522.1 421.8,1522.1"/>
<polygon points="458.2,1516.7 459.6,1520.7 463.8,1520.8 460.4,1523.3 461.6,1527.3 458.2,1524.9 454.7,1527.3 456.0,1523.3 452.6,1520.8 456.8,1520.7"/>
<polygon points="449.5,1522.7 450.1,1524.5 452.0,1524.5 450.5,1525.6 451.1,1527.4 449.5,1526.4 448.0,1527.4 448.5,1525.6 447.0,1524.5 448.9,1524.5"/>
<polygon points="521.9,1520.8 522.5,1522.6 524.4,1522.6 522.9,1523.7 523.5,1525.5 521.9,1524.5 520.4,1525.5 520.9,1523.7 519.4,1522.6 521.3,1522.6"/>
<polygon points="564.8,1521.1 566.1,1525.0 570.3,1525.1 567.0,1527.7 568.2,1531.7 564.8,1529.3 561.3,1531.7 562.5,1527.7 559.2,1525.1 563.4,1525.0"/>
<polygon points="352.1,1525.7 353.5,1529.6 357.7,1529.7 354.4,1532.3 355.6,1536.3 352.1,1533.9 348.7,1536.3 349.9,1532.3 346.6,1529.7 350.8,1529.6"/>
<polygon points="318.8,1535.4 320.1,1539.4 324.3,1539.5 321.0,1542.0 322.2,1546.0 318.8,1543.7 315.3,1546.0 316.5,1542.0 313.2,1539.5 317.4,1539.4"/>
<polygon points="490.5,1536.2 491.1,1538.0 493.0,1538.1 491.5,1539.2 492.0,1541.0 490.5,1539.9 488.9,1541.0 489.5,1539.2 487.9,1538.1 489.8,1538.0"/>
<polygon points="392.3,1537.9 394.5,1544.4 401.5,1544.6 396.0,1548.7 398.0,1555.4 392.3,1551.4 386.6,1555.4 388.6,1548.7 383.1,1544.6 390.0,1544.4"/>
<polygon points="478.0,1537.1 480.3,1543.6 487.2,1543.7 481.7,1547.9 483.7,1554.6 478.0,1550.6 472.3,1554.6 474.3,1547.9 468.8,1543.7 475.7,1543.6"/>
<polygon points="225.2,1544.1 225.8,1545.9 227.7,1545.9 226.2,1547.1 226.7,1548.9 225.2,1547.8 223.6,1548.9 224.2,1547.1 222.7,1545.9 224.6,1545.9"/>
<polygon points="451.9,1547.9 452.6,1549.7 454.4,1549.7 452.9,1550.9 453.5,1552.7 451.9,1551.6 450.4,1552.7 450.9,1550.9 449.4,1549.7 451.3,1549.7"/>
<polygon points="431.6,1549.0 433.0,1553.0 437.2,1553.1 433.8,1555.6 435.0,1559.6 431.6,1557.2 428.2,1559.6 429.4,1555.6 426.0,1553.1 430.2,1553.0"/>
<polygon points="523.3,1548.2 524.7,1552.2 528.8,1552.2 525.5,1554.8 526.7,1558.8 523.3,1556.4 519.8,1558.8 521.0,1554.8 517.7,1552.2 521.9,1552.2"/>
<polygon points="353.5,1553.0 354.1,1554.8 356.0,1554.9 354.5,1556.0 355.0,1557.8 353.5,1556.7 351.9,1557.8 352.5,1556.0 351.0,1554.9 352.9,1554.8"/>
<polygon points="549.0,1553.1 551.3,1559.6 558.2,1559.7 552.7,1563.9 554.7,1570.6 549.0,1566.6 543.4,1570.6 545.4,1563.9 539.8,1559.7 546.8,1559.6"/>
<polygon points="579.7,1556.0 580.3,1557.8 582.2,1557.9 580.7,1559.0 581.2,1560.8 579.7,1559.7 578.1,1560.8 578.7,1559.0 577.2,1557.9 579.1,1557.8"/>
<polygon points="242.3,1557.4 243.7,1561.4 247.9,1561.5 244.5,1564.0 245.7,1568.0 242.3,1565.6 238.8,1568.0 240.1,1564.0 236.7,1561.5 240.9,1561.4"/>
<polygon points="399.3,1563.6 399.9,1565.4 401.8,1565.4 400.3,1566.6 400.9,1568.4 399.3,1567.3 397.8,1568.4 398.3,1566.6 396.8,1565.4 398.7,1565.4"/>
<polygon points="363.3,1566.3 363.9,1568.1 365.8,1568.2 364.3,1569.3 364.8,1571.1 363.3,1570.0 361.7,1571.1 362.2,1569.3 360.7,1568.2 362.6,1568.1"/>
<polygon points="224.9,1570.4 226.3,1574.4 230.5,1574.5 227.2,1577.0 228.4,1581.0 224.9,1578.6 221.5,1581.0 222.7,1577.0 219.4,1574.5 223.6,1574.4"/>
<polygon points="268.3,1584.5 269.0,1586.5 271.1,1586.5 269.4,1587.8 270.0,1589.8 268.3,1588.6 266.6,1589.8 267.2,1587.8 265.5,1586.5 267.6,1586.5"/>
<polygon points="273.7,1588.8 274.4,1590.6 276.3,1590.7 274.8,1591.8 275.3,1593.6 273.7,1592.5 272.2,1593.6 272.7,1591.8 271.2,1590.7 273.1,1590.6"/>
<polygon points="299.2,1585.4 300.6,1589.3 304.8,1589.4 301.5,1591.9 302.7,1596.0 299.2,1593.6 295.8,1596.0 297.0,1591.9 293.7,1589.4 297.9,1589.3"/>
<polygon points="242.6,1587.5 244.8,1594.1 251.8,1594.2 246.2,1598.4 248.2,1605.0 242.6,1601.0 236.9,1605.0 238.9,1598.4 233.4,1594.2 240.3,1594.1"/>
<polygon points="326.6,1607.8 327.3,1609.6 329.1,1609.7 327.6,1610.8 328.2,1612.6 326.6,1611.5 325.1,1612.6 325.6,1610.8 324.1,1609.7 326.0,1609.6"/>
<polygon points="282.4,1611.1 283.8,1615.1 288.0,1615.2 284.7,1617.7 285.9,1621.7 282.4,1619.3 279.0,1621.7 280.2,1617.7 276.9,1615.2 281.1,1615.1"/>
<polygon points="251.5,1627.1 252.1,1628.9 254.0,1628.9 252.5,1630.1 253.1,1631.9 251.5,1630.8 250.0,1631.9 250.5,1630.1 249.0,1628.9 250.9,1628.9"/>
</g>
<path fill="#ed1c24" d="M165.3,1681 L352.4,1625.7 L560,1600 L665.7,1636 L432.4,1728.5  C422.7,1725.5 397.3,1717.4 374.0,1712.0 C350.7,1706.6 316.7,1699.8 292.7,1695.6 C268.7,1691.4 251.2,1689.3 230.0,1687.0 C208.8,1684.7 176.1,1682.4 165.3,1681.5 Z"/>
<path fill="#fafbfb" d="M165.3,1681.5 C176.1,1682.4 208.8,1684.7 230.0,1687.0 C251.2,1689.3 268.7,1691.4 292.7,1695.6 C316.7,1699.8 350.7,1706.6 374.0,1712.0 C397.3,1717.4 422.7,1725.5 432.4,1728.2 L433.8,1783.8 L166.6,1721.4Z"/>
<path fill="#fafbfb" d="M432.4,1728.2 L665.7,1636 L665.7,1676.6 L434.5,1785Z"/>
<path class="g" stroke-width="4.6" stroke-linejoin="miter" stroke-linecap="butt" d="M166.6,1720.6 L433.8,1783 L665.7,1675.8"/>
<path class="g" stroke-width="2.4" d="M165.5,1682 L166.6,1721"/>
<path class="g" stroke-width="2" d="M665.7,1637 L665.7,1676"/>
<ellipse cx="433.5" cy="1753" rx="4" ry="25" fill="#666"/>
<g stroke="#ed1c24" fill="none" stroke-width="5" stroke-linecap="round" stroke-linejoin="round">
<path d="M161.2,1742.3 L435,1808.2 L675.2,1691.6"/>
<path d="M195,1733 Q175,1736 161.2,1742.3 Q168,1752 176,1766"/>
<path d="M648,1690.7 Q664,1690 676.5,1690.7 Q670,1706 665.7,1721.4"/>
</g>
<path d="M348.3,1617.0 C349.2,1615.0 355.3,1611.5 360.5,1608.8 C365.7,1606.1 372.7,1604.3 379.5,1600.7 C386.3,1597.1 394.0,1591.2 401.2,1587.1 C408.4,1583.0 417.9,1578.8 422.9,1576.3 C427.9,1573.8 427.5,1572.7 431.1,1572.2 C434.7,1571.8 438.3,1573.4 444.6,1573.6 C450.9,1573.8 460.4,1573.1 469.0,1573.6 C477.6,1574.0 488.1,1574.9 496.2,1576.3 C504.3,1577.7 511.5,1579.7 517.8,1581.7 C524.1,1583.7 529.6,1586.5 534.1,1588.5 C538.6,1590.5 545.5,1589.2 545.0,1593.9 C544.5,1598.7 542.2,1610.4 531.4,1617.0 C520.5,1623.6 488.9,1629.5 479.9,1633.3 C470.9,1637.1 478.3,1637.5 477.2,1640.0 C476.1,1642.5 475.1,1646.2 473.1,1648.2 C471.1,1650.2 467.9,1652.2 465.0,1652.2 C462.1,1652.2 458.4,1649.8 455.5,1648.2 C452.6,1646.6 451.8,1644.5 447.3,1642.7 C442.8,1640.9 436.0,1639.3 428.3,1637.3 C420.6,1635.3 410.2,1632.8 401.2,1630.5 C392.2,1628.2 381.8,1625.4 374.1,1623.8 C366.4,1622.2 359.4,1622.1 355.1,1621.0 C350.8,1619.9 347.4,1619.0 348.3,1617.0Z" fill="#fff" stroke="#fff" stroke-width="3" stroke-linejoin="round"/>
<path d="M477.7,1636.0 C476.3,1631.9 477.7,1621.8 479.9,1617.0 C482.1,1612.2 485.7,1610.5 490.7,1607.5 C495.7,1604.5 502.0,1602.0 509.7,1599.3 C517.4,1596.6 527.8,1592.5 536.8,1591.2 C545.8,1589.9 555.0,1590.5 564.0,1591.2 C573.0,1591.9 582.1,1593.5 591.1,1595.3 C600.1,1597.1 609.2,1599.6 618.2,1602.1 C627.2,1604.6 638.1,1608.0 645.3,1610.2 C652.5,1612.5 657.8,1613.8 661.6,1615.6 C665.5,1617.4 667.7,1619.2 668.4,1621.0 C669.1,1622.8 667.7,1624.5 665.7,1626.5 C663.7,1628.5 661.9,1630.8 656.2,1633.3 C650.6,1635.8 639.0,1638.9 631.8,1641.4 C624.6,1643.9 618.2,1645.7 612.8,1648.2 C607.4,1650.7 602.8,1653.6 599.2,1656.3 C595.6,1659.0 593.8,1662.8 591.1,1664.4 C588.4,1666.0 585.6,1666.2 582.9,1665.8 C580.2,1665.3 577.9,1662.8 574.8,1661.7 C571.6,1660.6 570.3,1660.3 564.0,1659.0 C557.7,1657.7 545.8,1655.8 536.8,1653.6 C527.8,1651.3 517.8,1647.5 509.7,1645.5 C501.6,1643.5 493.3,1643.0 488.0,1641.4 C482.7,1639.8 479.1,1640.1 477.7,1636.0Z" fill="#fff" stroke="#fff" stroke-width="3" stroke-linejoin="round"/>
<path fill="#666" d="M473.1,1622.4 Q482.6,1602.1 520.6,1599.3 Q516.5,1606.1 504.3,1607.5 Q485.3,1611.6 473.1,1622.4Z"/>
<path fill="#666" d="M595.1,1641.4 Q607.4,1621.0 645.3,1619.7 Q642.6,1626.5 629.1,1627.3 Q610.1,1630.5 595.1,1641.4Z"/>
<g class="g" stroke-width="1.2"><path d="M355.1,1622.9 C362.8,1624.5 389.0,1630.0 401.2,1632.7 C413.4,1635.4 420.6,1637.2 428.3,1639.2 C436.0,1641.2 442.8,1642.8 447.3,1644.6 C451.8,1646.4 452.6,1648.5 455.5,1650.1 C458.4,1651.7 461.9,1654.1 465.0,1654.1 C468.1,1654.1 472.4,1650.8 473.9,1650.1"/><path d="M482.6,1642.7 C487.1,1643.5 500.7,1645.3 509.7,1647.4 C518.7,1649.5 527.8,1653.2 536.8,1655.5 C545.8,1657.8 557.7,1659.6 564.0,1660.9 C570.3,1662.2 571.6,1662.5 574.8,1663.6 C577.9,1664.7 580.1,1667.2 582.9,1667.7 C585.7,1668.2 590.1,1666.5 591.6,1666.3"/></g>
</g>
<text x="679.3" y="1646.4" class="b" font-size="76.6" fill="#676767">210 x 100</text>
</svg>
</body>
</html>
